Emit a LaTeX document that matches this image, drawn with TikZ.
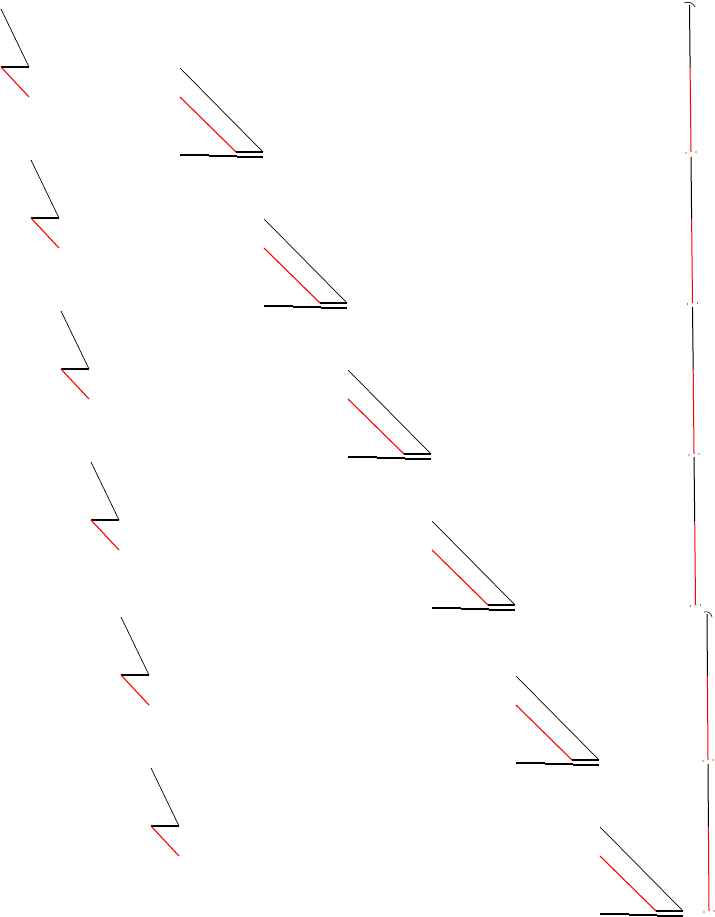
\documentclass[tikz,border=0pt]{standalone}
\begin{document}
\begin{tikzpicture}[x=1pt,y=-1pt,blk/.style={black,line width=0.7pt},redl/.style={red,line width=1.1pt},base/.style={black,line width=1.1pt},rail/.style={line width=1pt},dot/.style={black,fill=black,inner sep=0pt,minimum size=1.2pt,circle}]
\useasboundingbox (0,0) rectangle (714,917);
\foreach \i/\d in {0/0,1/151,2/302,3/453,4/608,5/759}{
  % left Z shape
  \coordinate (z\i) at (1+30*\i, 9+\d);
  \draw[blk] (z\i) -- ++(28,58) coordinate (zr\i);
  \draw[base] (zr\i) -- ++(-28,0) coordinate (zl\i);
  \draw[redl] (zl\i) -- ++(28,30);
  % middle wedge
  \coordinate (w\i) at (180+84*\i, 68+\d);
  \draw[blk] (w\i) -- ++(83,84) coordinate (wr\i);
  \draw[redl] ([yshift=-29pt]w\i) -- ++(56,55) coordinate (wm\i);
  \draw[base] (wm\i) -- (wr\i);
  \draw[base] ([yshift=-87pt]w\i) -- ++(29,0);
  \draw[base] ([shift={(29pt,-88pt)}]w\i) -- ++(28,0);
  \draw[base] ([shift={(57pt,-89pt)}]w\i) -- ++(26,0);
}
% right rails
\foreach \ya/\xa/\yb/\xb/\yc/\xc in {5/689.5/68/690.1/152/691.0, 157/691.0/219/691.6/303/692.5, 307/692.5/370/693.2/454/694.0, 457/694.0/521/694.7/605/695.5, 614/707.0/676/707.4/760/708.0, 764/708.0/827/708.4/911/709.0}{
  \coordinate (ra) at (\xa,\ya);
  \coordinate (rb) at (\xb,\yb);
  \coordinate (rc) at (\xc,\yc);
  \draw[rail,black] (ra) -- (rb);
  \draw[rail,red] (rb) -- (rc);
  \node[dot] at ([shift={(-5pt,-1pt)}]rc) {};
  \node[dot] at ([shift={(5pt,0pt)}]rc) {};
}
\draw[black,line width=0.6pt] (684,3) .. controls (689,1) and (693,3) .. (695,7);
\draw[black,line width=0.6pt] (704,612) .. controls (708,611) and (711,613) .. (712,617);
\end{tikzpicture}
\end{document}
